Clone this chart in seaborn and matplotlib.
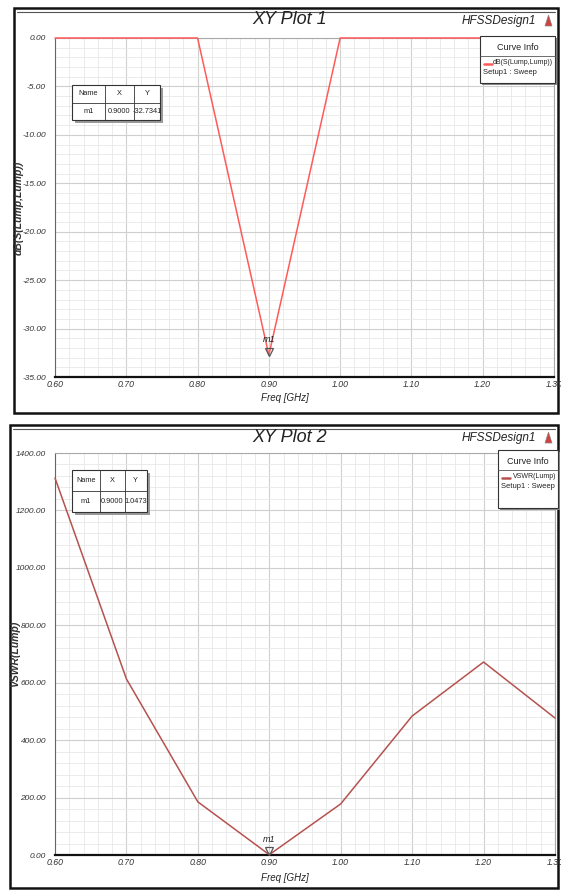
import numpy as np
import pandas as pd
import matplotlib
matplotlib.use("Agg")
import matplotlib.pyplot as plt
import matplotlib.transforms as mtransforms
import seaborn as sns
from matplotlib.patches import Rectangle, Polygon
from matplotlib.lines import Line2D
from matplotlib.ticker import MultipleLocator, FormatStrFormatter

# ---------------- data ----------------
freq_ghz = [0.60, 0.70, 0.80, 0.90, 1.00, 1.10, 1.20, 1.30]
s11_db = [0.0, 0.0, 0.0, -32.7341, 0.0, 0.0, 0.0, 0.0]
vswr = [1313.0, 613.0, 185.0, 1.0473, 178.0, 484.0, 672.0, 477.0]
marker_name = "m1"
marker_freq = 0.9000
marker_s11 = -32.7341
marker_vswr = 1.0473
x_ticks = [0.60, 0.70, 0.80, 0.90, 1.00, 1.10, 1.20, 1.30]
y1_ticks = [0.0, -5.0, -10.0, -15.0, -20.0, -25.0, -30.0, -35.0]
y2_ticks = [0, 200, 400, 600, 800, 1000, 1200, 1400]
titles = ["XY Plot 1", "XY Plot 2"]
ylabels = ["dB(S(Lump,Lump))", "VSWR(Lump)"]
legend_names = ["dB(S(Lump,Lump))", "VSWR(Lump)"]
design_name = "HFSSDesign1"
setup_name = "Setup1 : Sweep"

df1 = pd.DataFrame({"freq": freq_ghz, "val": s11_db})
df2 = pd.DataFrame({"freq": freq_ghz, "val": vswr})

sns.set_theme(style="white")
FAM = ["Liberation Sans Narrow", "Liberation Sans", "DejaVu Sans"]
plt.rcParams["font.family"] = FAM

W, H = 561, 890
fig = plt.figure(figsize=(W / 100, H / 100), dpi=100)
fig.patch.set_facecolor("white")


def fx(x):
    return x / W


def fy(y):
    return 1 - y / H


def frect(x0, y0, x1, y1, **kw):
    r = Rectangle((fx(x0), fy(y1)), fx(x1) - fx(x0), fy(y0) - fy(y1),
                  transform=fig.transFigure, **kw)
    fig.patches.append(r)
    return r


def fline(xs, ys, **kw):
    fig.lines.append(Line2D([fx(v) for v in xs], [fy(v) for v in ys],
                            transform=fig.transFigure, **kw))


panels = [
    dict(frame=(14, 8, 558, 413), ax=(55, 38, 554, 377), df=df1, color="#ff5a5a",
         ymin=-35, ymax=0, ymin_step=1, yticks=y1_ticks,
         mk_y=marker_s11, title_y=20, xlab_y=398, ylab_x=19,
         table=(72, 85, 160, 120), table_y="-32.7341",
         legend=(480, 36, 555, 83)),
    dict(frame=(10, 425, 558, 888), ax=(55, 453, 555, 855), df=df2, color="#b5524f",
         ymin=0, ymax=1400, ymin_step=40, yticks=y2_ticks,
         mk_y=marker_vswr, title_y=437, xlab_y=878, ylab_x=15,
         table=(72, 470, 147, 512), table_y="1.0473",
         legend=(498, 450, 558, 508)),
]

for i, p in enumerate(panels):
    x0, y0, x1, y1 = p["frame"]
    frect(x0, y0, x1, y1, facecolor="none", edgecolor="#111111", lw=1.8, zorder=-2)
    fline([x0 + 3, x1 - 3], [y0 + 4, y0 + 4], color="#555555", lw=0.8, zorder=-2)

    ax0, ay0, ax1, ay1 = p["ax"]
    ax = fig.add_axes([fx(ax0), fy(ay1), fx(ax1) - fx(ax0), fy(ay0) - fy(ay1)])
    ax.set_zorder(1)
    ax.patch.set_alpha(0)
    sns.lineplot(data=p["df"], x="freq", y="val", ax=ax, color=p["color"],
                 lw=1.1, legend=False, zorder=3, clip_on=False)
    ax.set_xlim(0.60, 1.30)
    ax.set_ylim(p["ymin"], p["ymax"])
    ax.set_xticks(x_ticks)
    ax.set_yticks(p["yticks"])
    ax.xaxis.set_minor_locator(MultipleLocator(0.02))
    ax.yaxis.set_minor_locator(MultipleLocator(p["ymin_step"]))
    ax.xaxis.set_major_formatter(FormatStrFormatter("%.2f"))
    ax.yaxis.set_major_formatter(FormatStrFormatter("%.2f"))
    ax.grid(which="major", color="#cfcfcf", lw=0.8)
    ax.grid(which="minor", color="#e8e8e8", lw=0.6)
    ax.set_axisbelow(True)
    ax.tick_params(axis="both", which="major", labelsize=6, length=5, width=0.8,
                   color="#333333", pad=1.5, direction="out", labelcolor="#333333")
    ax.tick_params(axis="both", which="minor", length=2.5, width=0.6, color="#333333",
                   direction="out")
    ax.tick_params(axis="x", which="both", direction="in")
    ax.tick_params(axis="x", which="major", length=3, pad=2, labelsize=6.3)
    ax.tick_params(axis="x", which="minor", length=2)
    for s in ["top", "right"]:
        ax.spines[s].set_color("#aaaaaa")
        ax.spines[s].set_linewidth(0.8)
    ax.spines["left"].set_color("#666666")
    ax.spines["left"].set_linewidth(0.8)
    ax.spines["bottom"].set_color("#111111")
    ax.spines["bottom"].set_linewidth(1.6)
    ax.set_xlabel("")
    ax.set_ylabel("")
    for lab in ax.get_xticklabels() + ax.get_yticklabels():
        lab.set_fontstyle("italic")

    # marker (tip of the open triangle on the data point)
    tr = mtransforms.offset_copy(ax.transData, fig=fig, x=0, y=2.5, units="points")
    ax.plot([marker_freq], [p["mk_y"]], marker="v", ms=6, mfc="none",
            mec="#555555", mew=0.9, zorder=5, clip_on=False, transform=tr)
    ax.annotate(marker_name, (marker_freq, p["mk_y"]), xytext=(0, 8),
                textcoords="offset points", ha="center", va="bottom",
                fontsize=6.5, style="italic", color="#222222")

    # texts
    fig.text(fx(290), fy(p["title_y"]), titles[i], ha="center", va="center",
             fontsize=13, style="italic", color="#222222")
    fig.text(fx(536), fy(p["title_y"] + 1), design_name, ha="right", va="center",
             fontsize=8.5, style="italic", color="#222222")
    tri = Polygon([[fx(545), fy(p["title_y"] + 6)], [fx(552), fy(p["title_y"] + 6)],
                   [fx(548.5), fy(p["title_y"] - 5)]], closed=True,
                  transform=fig.transFigure, facecolor="#d04040", edgecolor="#888888",
                  lw=0.5)
    fig.patches.append(tri)
    fig.text(fx(285), fy(p["xlab_y"]), "Freq [GHz]", ha="center", va="center",
             fontsize=7, style="italic", color="#222222")
    fig.text(fx(p["ylab_x"]), fy((ay0 + ay1) / 2), ylabels[i], ha="center",
             va="center", rotation=90, fontsize=7.5, style="italic",
             fontweight="bold", color="#333333")

    # marker table
    tx0, ty0, tx1, ty1 = p["table"]
    frect(tx0 + 3, ty0 + 3, tx1 + 3, ty1 + 3, facecolor="#9a9a9a", edgecolor="none",
          zorder=4)
    frect(tx0, ty0, tx1, ty1, facecolor="white", edgecolor="#333333", lw=0.8,
          zorder=5)
    tw = tx1 - tx0
    c1 = tx0 + tw * 0.37
    c2 = tx0 + tw * 0.70
    ym = (ty0 + ty1) / 2
    fline([tx0, tx1], [ym, ym], color="#333333", lw=0.6, zorder=6)
    fline([c1, c1], [ty0, ty1], color="#333333", lw=0.6, zorder=6)
    fline([c2, c2], [ty0, ty1], color="#333333", lw=0.6, zorder=6)
    r1 = (ty0 + ym) / 2
    r2 = (ym + ty1) / 2
    for cx, t1, t2 in [((tx0 + c1) / 2, "Name", marker_name),
                       ((c1 + c2) / 2, "X", f"{marker_freq:.4f}"),
                       ((c2 + tx1) / 2, "Y", p["table_y"])]:
        fig.text(fx(cx), fy(r1), t1, ha="center", va="center", fontsize=5.3,
                 color="#222222", zorder=7)
        fig.text(fx(cx), fy(r2), t2, ha="center", va="center", fontsize=5.3,
                 color="#222222", zorder=7)

    # legend box
    lx0, ly0, lx1, ly1 = p["legend"]
    frect(lx0 + 2, ly0 + 2, lx1 + 2, ly1 + 2, facecolor="#888888", edgecolor="none",
          zorder=4)
    frect(lx0, ly0, lx1, ly1, facecolor="white", edgecolor="#333333", lw=0.8,
          zorder=5)
    hy = ly0 + 11
    fline([lx0, lx1], [ly0 + 20, ly0 + 20], color="#555555", lw=0.6, zorder=6)
    fig.text(fx((lx0 + lx1) / 2), fy(hy), "Curve Info", ha="center", va="center",
             fontsize=6.5, color="#222222", zorder=7)
    fline([lx0 + 4, lx0 + 12], [ly0 + 28, ly0 + 28], color=p["color"], lw=1.8,
          zorder=7)
    fig.text(fx(lx1 - 2), fy(ly0 + 27), legend_names[i], ha="right", va="center",
             fontsize=5, color="#222222", zorder=7)
    fig.text(fx(lx0 + 3), fy(ly0 + 37), setup_name, ha="left", va="center",
             fontsize=5.5, color="#222222", zorder=7)

fig.savefig("out.png", dpi=100, facecolor="white")
